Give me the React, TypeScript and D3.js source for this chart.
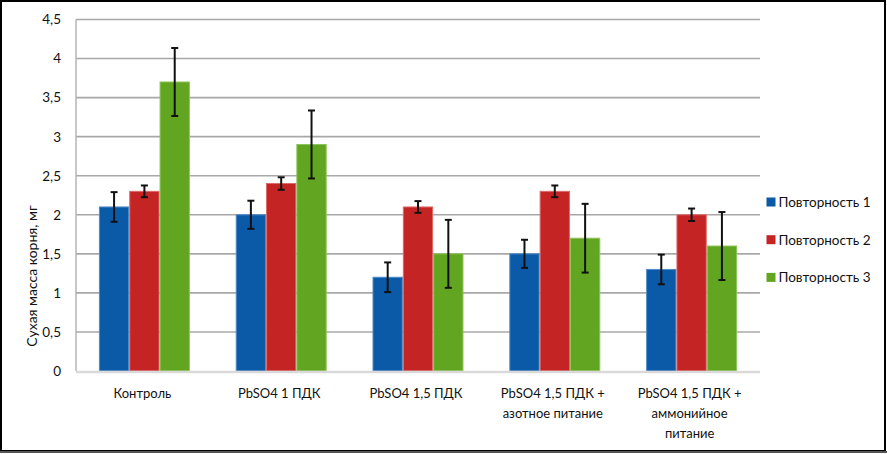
import { scaleBand, scaleLinear } from "d3"

// значения
const categories = [
  "Контроль",
  "PbSO4 1 ПДК",
  "PbSO4 1,5 ПДК",
  "PbSO4 1,5 ПДК +\nазотное питание",
  "PbSO4 1,5 ПДК +\nаммонийное\nпитание",
]
const seriesNames = ["Повторность 1", "Повторность 2", "Повторность 3"]
const rep1 = [2.1, 2.0, 1.2, 1.5, 1.3]
const rep2 = [2.3, 2.4, 2.1, 2.3, 2.0]
const rep3 = [3.7, 2.9, 1.5, 1.7, 1.6]
const err1 = [0.19, 0.18, 0.19, 0.18, 0.19]
const err2 = [0.075, 0.08, 0.075, 0.075, 0.08]
const err3 = [0.435, 0.435, 0.435, 0.44, 0.435]
const yTicks = [0, 0.5, 1, 1.5, 2, 2.5, 3, 3.5, 4, 4.5]

const COLORS = ["#0b5aa8", "#c52424", "#62a520"]
const EDGES = ["#4f8bc9", "#dc6a6a", "#8cc45a"]
const FONT = "Lato, 'Open Sans', sans-serif"

const W = 887
const H = 454
const left = 76
const right = 760
const top = 19.5
const bottom = 371

const fmt = (v: number) => String(v).replace(".", ",")

export default function App() {
  const values = [rep1, rep2, rep3]
  const errors = [err1, err2, err3]

  const y = scaleLinear().domain([0, 4.5]).range([bottom, top])
  const x0 = scaleBand<string>()
    .domain(categories)
    .range([left, right])
    .paddingInner(0.335)
    .paddingOuter(0.1675)
  const x1 = scaleBand<string>().domain(seriesNames).range([0, x0.bandwidth()])

  return (
    <>
      <style>{`body{margin:0}`}</style>
      <svg width={W} height={H} style={{ display: "block", fontFamily: FONT }}>
        <rect x={0} y={0} width={W} height={H} fill="#fff" />

        {/* сетка */}
        {yTicks.slice(1).map((t) => (
          <line
            key={t}
            x1={left}
            x2={right}
            y1={y(t)}
            y2={y(t)}
            stroke="#a8a8a8"
            strokeWidth={1.6}
          />
        ))}
        <line x1={left} x2={left} y1={top} y2={bottom} stroke="#b4b4b4" strokeWidth={1.5} />

        {/* столбцы */}
        {categories.map((c, i) => (
          <g key={c} transform={`translate(${x0(c)},0)`}>
            {seriesNames.map((s, k) => (
              <rect
                key={s}
                x={x1(s)! + 0.5}
                y={y(values[k][i])}
                width={x1.bandwidth() - 1}
                height={bottom - y(values[k][i])}
                fill={COLORS[k]}
                stroke={EDGES[k]}
                strokeWidth={1}
              />
            ))}
          </g>
        ))}

        <line x1={left} x2={right} y1={bottom + 1} y2={bottom + 1} stroke="#d9d9d9" strokeWidth={2.6} />

        {/* планки погрешностей */}
        {categories.map((c, i) =>
          seriesNames.map((s, k) => {
            const cx = x0(c)! + x1(s)! + x1.bandwidth() / 2
            const v = values[k][i]
            const e = errors[k][i]
            return (
              <g key={`${c}-${s}`} stroke="#111" strokeWidth={2}>
                <line x1={cx} x2={cx} y1={y(v + e)} y2={y(v - e)} />
                <line x1={cx - 3.5} x2={cx + 3.5} y1={y(v + e)} y2={y(v + e)} />
                <line x1={cx - 3.5} x2={cx + 3.5} y1={y(v - e)} y2={y(v - e)} />
              </g>
            )
          })
        )}

        {/* ось Y */}
        {yTicks.map((t) => (
          <text
            key={t}
            x={61}
            y={y(t)}
            dy="0.36em"
            textAnchor="end"
            fontSize={13.5}
            fill="#111"
          >
            {fmt(t)}
          </text>
        ))}
        <text
          transform="translate(37,276) rotate(-90)"
          textAnchor="middle"
          fontSize={14}
          fill="#111"
        >
          Сухая масса корня, мг
        </text>

        {/* подписи категорий */}
        {categories.map((c) => (
          <text
            key={c}
            x={x0(c)! + x0.bandwidth() / 2 - 2}
            y={398}
            textAnchor="middle"
            fontSize={13}
            fill="#111"
          >
            {c.split("\n").map((line, j) => (
              <tspan key={j} x={x0(c)! + x0.bandwidth() / 2 - 2} dy={j === 0 ? 0 : 20}>
                {line}
              </tspan>
            ))}
          </text>
        ))}

        {/* легенда */}
        {seriesNames.map((s, k) => (
          <g key={s} transform={`translate(766.5,${202 + k * 37.7})`}>
            <rect x={0} y={-4.5} width={9} height={9} fill={COLORS[k]} />
            <text x={12} y={0} dy="0.36em" fontSize={13.5} fill="#111">
              {s}
            </text>
          </g>
        ))}

        {/* рамка */}
        <rect x={1} y={1} width={884} height={450} fill="none" stroke="#000" strokeWidth={2} />
        <line x1={0} x2={W} y1={452} y2={452} stroke="#555" strokeWidth={2} />
      </svg>
    </>
  )
}
